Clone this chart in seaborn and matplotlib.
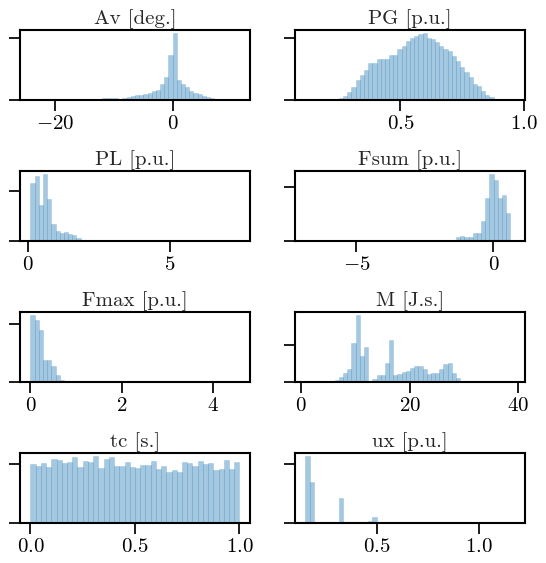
import numpy as np
import pandas as pd
import seaborn as sns
import matplotlib.pyplot as plt

titles = ['Av [deg.]', 'PG [p.u.]', 'PL [p.u.]', 'Fsum [p.u.]',
          'Fmax [p.u.]', 'M [J.s.]', 'tc [s.]', 'ux [p.u.]']

# data range of each variable (first / last bin edge)
ranges = [(-24.1, 11.2), (0.115, 0.962), (0.076, 7.46), (-6.861, 0.774),
          (0.0, 4.59), (0.77, 39.3), (0.0, 1.0), (0.1526, 1.172)]

# bin heights (arbitrary units)
av_counts = [0.3, 0, 0, 0, 0, 0, 1, 1, 1, 1, 1, 1, 1, 1, 1, 1,
             3, 6, 6, 6, 6, 3, 6, 9, 12, 15, 15, 17, 22, 26, 30, 48, 69, 135, 198, 60,
             47, 39, 27, 21, 18, 12, 9, 6, 3, 1, 0.5, 0, 0, 0.3]
pg_counts = [0.3, 0, 0, 0, 0, 0, 0, 1, 6, 12, 24, 39, 60, 75, 90, 111, 111,
             123, 123, 123, 135, 135, 153, 159, 174, 183, 189, 195, 198, 183, 180,
             171, 159, 153, 147, 132, 117, 99, 84, 69, 48, 42, 27, 15, 9, 3, 1,
             0, 0, 0.3]
pl_counts = [176, 198, 110, 202, 128, 50, 29, 24, 26, 22, 17, 8, 3, 1] + [0] * 35 + [0.3]
fsum_counts = [0.3] + [0] * 34 + [3, 13, 15, 12, 12, 24, 24, 60, 126, 198, 180,
                                  126, 135, 84, 0.3]
fmax_counts = [200, 185, 155, 65, 65, 47, 20, 5] + [0] * 41 + [0.3]
m_counts = [0.3, 0, 0, 0, 0, 0, 3, 6, 15, 27, 39, 114, 198, 78, 102, 0, 9, 21, 21,
            57, 123, 21, 24, 30, 33, 42, 48, 48, 39, 24, 27, 27, 39, 54, 57, 27, 12] + [0] * 12 + [0.3]
tc_counts = [176, 170, 179, 167, 191, 188, 179, 182, 197, 167, 185, 182, 200, 164,
             191, 197, 170, 170, 182, 167, 164, 173, 173, 185, 161, 170, 152, 158,
             152, 182, 179, 170, 185, 176, 179, 158, 161, 188, 161, 182]
ux_counts = [203, 123, 0, 0, 0, 0, 0, 0, 74, 0, 0, 0, 0, 0, 0, 5, 17] + [0] * 32 + [0.3]

counts = [av_counts, pg_counts, pl_counts, fsum_counts,
          fmax_counts, m_counts, tc_counts, ux_counts]

xticks = [[-20, 0], [0.5, 1.0], [0, 5], [-5, 0],
          [0, 2, 4], [0, 20, 40], [0.0, 0.5, 1.0], [0.5, 1.0]]
yticks = [185, 183, 150, 160, 173, 109, 177, 177]

sns.set_style('ticks')
plt.rcParams['font.family'] = 'serif'
plt.rcParams['font.serif'] = ['cmr10']
plt.rcParams['mathtext.fontset'] = 'cm'
plt.rcParams['axes.formatter.use_mathtext'] = True
plt.rcParams['axes.edgecolor'] = 'black'
plt.rcParams['axes.linewidth'] = 1.5
plt.rcParams['xtick.color'] = 'black'
plt.rcParams['ytick.color'] = 'black'

fig, axes = plt.subplots(4, 2, figsize=(5.46, 5.63), dpi=100)
fig.subplots_adjust(left=0.0366, right=0.9615, top=0.9467, bottom=0.0716,
                    wspace=0.196, hspace=1.01)

blue = '#1f77b4'
for ax, title, (lo, hi), c, xt, yt in zip(axes.flat, titles, ranges, counts, xticks, yticks):
    edges = np.linspace(lo, hi, len(c) + 1)
    df = pd.DataFrame({'value': (edges[:-1] + edges[1:]) / 2, 'count': c})
    sns.histplot(data=df, x='value', weights='count', bins=list(edges), ax=ax,
                 color=blue, alpha=0.4,
                 edgecolor=(0.12, 0.47, 0.71, 0.3), linewidth=0.4)
    ax.set_title(title, fontsize=15, pad=4)
    ax.set_xlabel('')
    ax.set_ylabel('')
    ax.set_xticks(xt)
    ax.set_yticks([0, yt])
    ax.set_yticklabels([])
    ax.tick_params(axis='both', which='major', length=8, width=1.25, labelsize=15, pad=3)
    for s in ax.spines.values():
        s.set_visible(True)
        s.set_linewidth(1.5)

fig.savefig('out.png', dpi=100)
